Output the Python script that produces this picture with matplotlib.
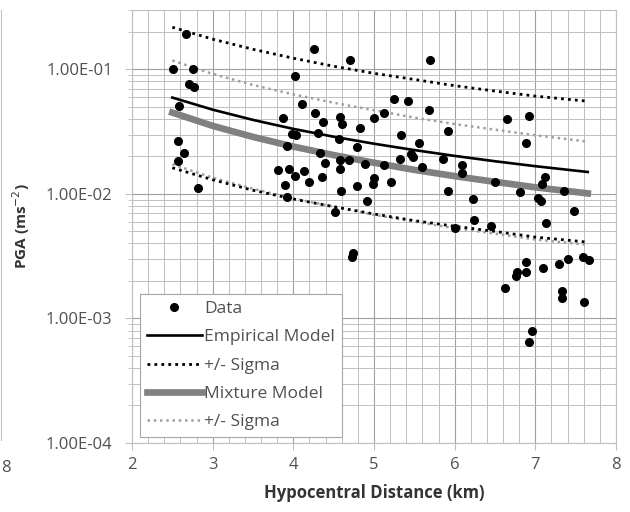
import numpy as np
import matplotlib.pyplot as plt
from matplotlib.ticker import FixedLocator, FuncFormatter, MultipleLocator, LogLocator, NullFormatter

plt.rcParams['font.family'] = ['Open Sans', 'DejaVu Sans']

# data points (hypocentral distance km, PGA m/s^2)
dist = [2.51, 2.67, 2.76, 2.71, 2.77, 2.58, 2.57, 2.64, 2.57, 2.82,
        4.26, 4.70, 4.02, 4.11, 4.27, 4.37, 4.58, 4.60, 4.83, 5.00,
        3.87, 3.98, 4.03, 4.30, 4.56, 4.79, 3.92, 4.33, 4.39, 4.58,
        4.69, 4.89, 4.58, 3.81, 3.95, 4.13, 4.02, 4.35, 5.00, 4.19,
        3.90, 3.92, 4.59, 4.79, 4.99, 4.91, 4.52, 4.74, 4.73, 5.69,
        5.25, 5.42, 5.68, 5.12, 5.92, 5.33, 5.56, 5.32, 5.48, 5.46,
        5.85, 6.09, 6.09, 5.12, 5.60, 5.21, 6.50, 5.92, 6.23, 6.00,
        6.24, 6.45, 6.65, 6.92, 6.89, 7.12, 7.08, 6.81, 7.03, 7.07,
        7.35, 7.48, 7.13, 6.88, 6.77, 6.76, 6.89, 7.09, 7.29, 7.40,
        7.59, 7.66, 6.62, 7.33, 7.33, 7.60, 6.96, 6.92]
pga = [0.100, 0.191, 0.100, 0.077, 0.0716, 0.0504, 0.0267, 0.0214, 0.0185, 0.0112,
       0.145, 0.120, 0.088, 0.0523, 0.045, 0.038, 0.0418, 0.0367, 0.034, 0.041,
       0.041, 0.0305, 0.030, 0.031, 0.0278, 0.0239, 0.0244, 0.0214, 0.0178, 0.0188,
       0.0188, 0.0175, 0.0159, 0.0156, 0.0159, 0.0153, 0.014, 0.0138, 0.0135, 0.0125,
       0.0118, 0.0095, 0.0106, 0.0116, 0.012, 0.0088, 0.0072, 0.00334, 0.0031, 0.118,
       0.0583, 0.0562, 0.0476, 0.045, 0.0322, 0.0299, 0.0258, 0.0191, 0.0199, 0.021,
       0.0191, 0.0171, 0.0148, 0.0171, 0.0165, 0.0125, 0.0125, 0.0106, 0.0091, 0.0053,
       0.0062, 0.0055, 0.0403, 0.0425, 0.0258, 0.0137, 0.0120, 0.0104, 0.0093, 0.0088,
       0.0106, 0.0073, 0.0058, 0.00283, 0.00235, 0.00218, 0.00235, 0.00253, 0.00272, 0.0030,
       0.0031, 0.00294, 0.00175, 0.00165, 0.00145, 0.00135, 0.00079, 0.00065]

# model curves
model_r = [2.5, 3.0, 3.5, 4.0, 4.5, 5.0, 5.5, 6.0, 6.5, 7.0, 7.65]
emp = [0.0594, 0.0475, 0.0393, 0.0333, 0.0288, 0.0253, 0.0225, 0.0202, 0.0183, 0.0167, 0.0150]
emp_hi = [0.218, 0.175, 0.145, 0.123, 0.106, 0.093, 0.083, 0.074, 0.067, 0.061, 0.0555]
emp_lo = [0.0162, 0.0130, 0.0107, 0.0091, 0.0079, 0.0069, 0.0061, 0.0055, 0.0050, 0.0045, 0.0041]
mix = [0.045, 0.0352, 0.0287, 0.0240, 0.0205, 0.0178, 0.0156, 0.0139, 0.0125, 0.0113, 0.0101]
mix_hi = [0.118, 0.092, 0.075, 0.063, 0.054, 0.047, 0.041, 0.0364, 0.0328, 0.0296, 0.0263]
mix_lo = [0.0173, 0.0135, 0.0110, 0.0092, 0.0079, 0.0068, 0.0060, 0.0053, 0.0048, 0.0043, 0.0039]

x_ticks = [2, 3, 4, 5, 6, 7, 8]
y_ticks = [1e-4, 1e-3, 1e-2, 1e-1]

fig = plt.figure(figsize=(6.3, 5.12), dpi=100)
ax = fig.add_axes([0.2095, 0.1348, 0.7683, 0.8457])

dots = (0, (1, 1.5))
ax.plot(dist, pga, 'o', color='black', ms=5.5, label='Data', zorder=5)
ax.plot(model_r, emp, color='black', lw=1.9, label='Empirical Model', zorder=4)
ax.plot(model_r, emp_hi, color='black', lw=2.0, ls=dots, label='+/- Sigma', zorder=4)
ax.plot(model_r, emp_lo, color='black', lw=2.0, ls=dots, zorder=4)
ax.plot(model_r, mix, color='#808080', lw=4.8, label='Mixture Model', zorder=3)
ax.plot(model_r, mix_hi, color='#a0a0a0', lw=1.8, ls=dots, label='+/- Sigma', zorder=3)
ax.plot(model_r, mix_lo, color='#a0a0a0', lw=1.8, ls=dots, zorder=3)

ax.set_yscale('log')
ax.set_xlim(2, 8)
ax.set_ylim(1e-4, 0.3)
ax.xaxis.set_major_locator(FixedLocator(x_ticks))
ax.xaxis.set_minor_locator(MultipleLocator(0.2))
ax.yaxis.set_major_locator(FixedLocator(y_ticks))
ax.yaxis.set_minor_locator(LogLocator(base=10, subs=np.arange(2, 10)))
ax.yaxis.set_minor_formatter(NullFormatter())
ax.yaxis.set_major_formatter(FuncFormatter(lambda v, p: '{:.2E}'.format(v)))

ax.grid(True, which='major', color='#a0a0a0', lw=0.8)
ax.grid(True, which='minor', color='#c0c0c0', lw=0.7)
ax.set_axisbelow(True)
for s in ax.spines.values():
    s.set_color('#bfbfbf')
    s.set_linewidth(0.8)
ax.tick_params(which='both', colors='#bfbfbf', labelcolor='#505050', labelsize=12)
ax.tick_params(axis='y', which='major', length=5, pad=9)
ax.tick_params(axis='y', which='minor', length=3)
ax.tick_params(axis='x', which='major', length=5, pad=5)
ax.tick_params(axis='x', which='minor', length=0)

ax.set_xlabel('Hypocentral Distance (km)', fontsize=12, fontweight='bold', color='#333333', labelpad=8)
ax.set_ylabel('PGA (ms$^{-2}$)', fontsize=11, fontweight='bold', color='#333333', labelpad=10)

leg = ax.legend(loc='lower left', bbox_to_anchor=(0.016, 0.013), borderaxespad=0,
                fontsize=12.5, handlelength=3.2, handletextpad=0.1, labelspacing=0.7,
                frameon=True, fancybox=False, borderpad=0.4)
leg.get_frame().set_edgecolor('#a6a6a6')
leg.get_frame().set_linewidth(0.8)
leg.get_frame().set_alpha(1)
for t in leg.get_texts():
    t.set_color('#505050')

# remains of the neighbouring chart at the left edge
fig.text(0.001, 0.086, '8', fontsize=12, color='#505050', ha='left', va='center')
fig.add_artist(plt.Line2D([0.002, 0.002], [0.14, 0.98], color='#bfbfbf', lw=0.8))

fig.savefig('out.png', dpi=100)
